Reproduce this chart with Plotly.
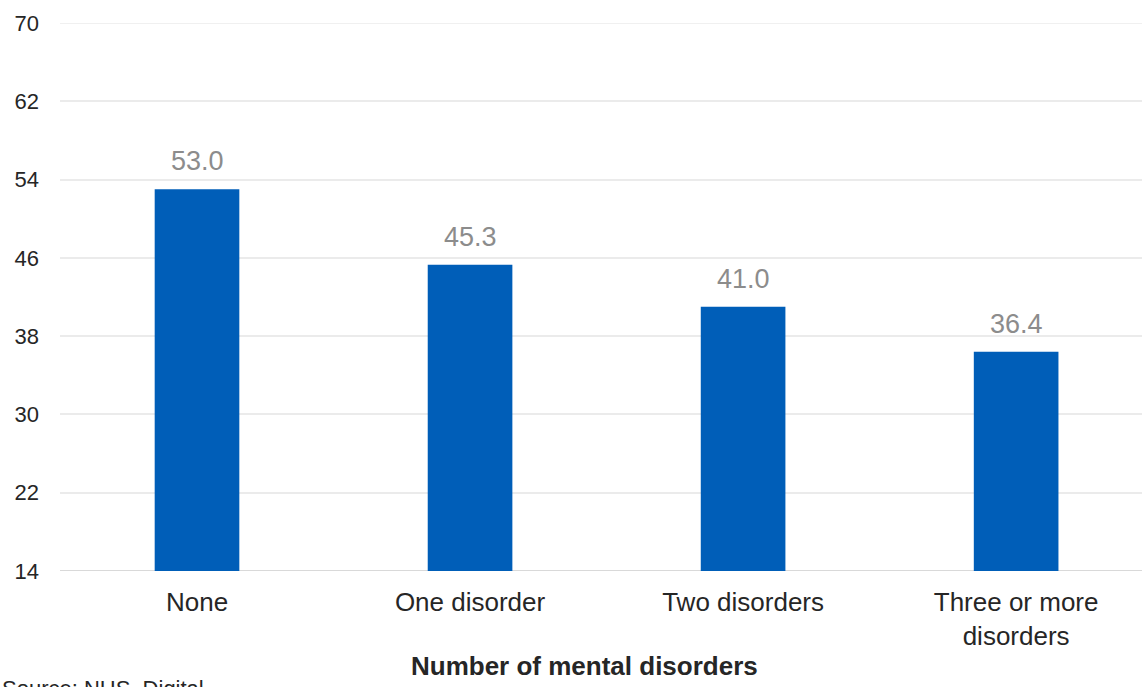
import plotly.graph_objects as go

categories = ["None", "One disorder", "Two disorders", "Three or more<br>disorders"]
values = [53.0, 45.3, 41.0, 36.4]
y_ticks = [14, 22, 30, 38, 46, 54, 62, 70]

W, H = 1142, 687
ml, mr, mt, mb = 60, 0, 23, 116
FONT = "Liberation Sans, Arial, sans-serif"

fig = go.Figure()
fig.add_trace(go.Bar(
    x=categories, y=values,
    marker=dict(color="#005EB8", line=dict(width=0)),
    width=0.31,
    cliponaxis=False,
))

pw = W - ml - mr
ph = H - mt - mb

annotations = []
for c, v in zip(categories, values):
    annotations.append(dict(
        x=c, y=v, xref="x", yref="y", text=f"{v:.1f}", showarrow=False,
        yanchor="middle", yshift=28,
        font=dict(family=FONT, size=27, color="#8C8C8C"),
    ))
annotations.append(dict(
    text="<b>Number of mental disorders</b>",
    x=(584 - ml) / pw, y=(H - mb - 666) / ph, xref="paper", yref="paper",
    xanchor="center", yanchor="middle", showarrow=False,
    font=dict(family=FONT, size=26, color="#262626"),
))
annotations.append(dict(
    text="Source: NHS  Digital",
    x=(0 - ml) / pw, y=(H - mb - 688) / ph, xref="paper", yref="paper",
    xanchor="left", yanchor="middle", showarrow=False,
    font=dict(family=FONT, size=22, color="#262626"),
))

fig.update_layout(
    width=W, height=H,
    margin=dict(l=ml, r=mr, t=mt, b=mb, autoexpand=False),
    plot_bgcolor="white", paper_bgcolor="white",
    font=dict(family=FONT, size=22, color="#262626"),
    showlegend=False,
    xaxis=dict(
        range=[-0.5018, 3.461], automargin=False,
        showgrid=False, showline=False, zeroline=False,
        ticks="", tickfont=dict(size=26, color="#262626"),
        ticklabelstandoff=13,
    ),
    yaxis=dict(
        range=[14, 70], tickvals=y_ticks, automargin=False,
        showgrid=True, gridcolor="#EBEBEB", gridwidth=1.5,
        zeroline=False, showline=False, ticks="",
        tickfont=dict(size=22, color="#262626"),
        ticklabelstandoff=20,
    ),
    annotations=annotations,
)

# baseline and top gridline (edge gridlines are not drawn by plotly)
fig.add_shape(type="line", xref="paper", yref="y", x0=0, x1=1, y0=y_ticks[0], y1=y_ticks[0],
              line=dict(color="#D9D9D9", width=2), layer="below")
fig.add_shape(type="line", xref="paper", yref="y", x0=0, x1=1, y0=y_ticks[-1], y1=y_ticks[-1],
              line=dict(color="#EBEBEB", width=1.5), layer="below")

fig.write_html(
    "out.html",
    config={"displayModeBar": False},
    post_script="document.body.style.margin='0';document.body.style.overflow='hidden';",
)
